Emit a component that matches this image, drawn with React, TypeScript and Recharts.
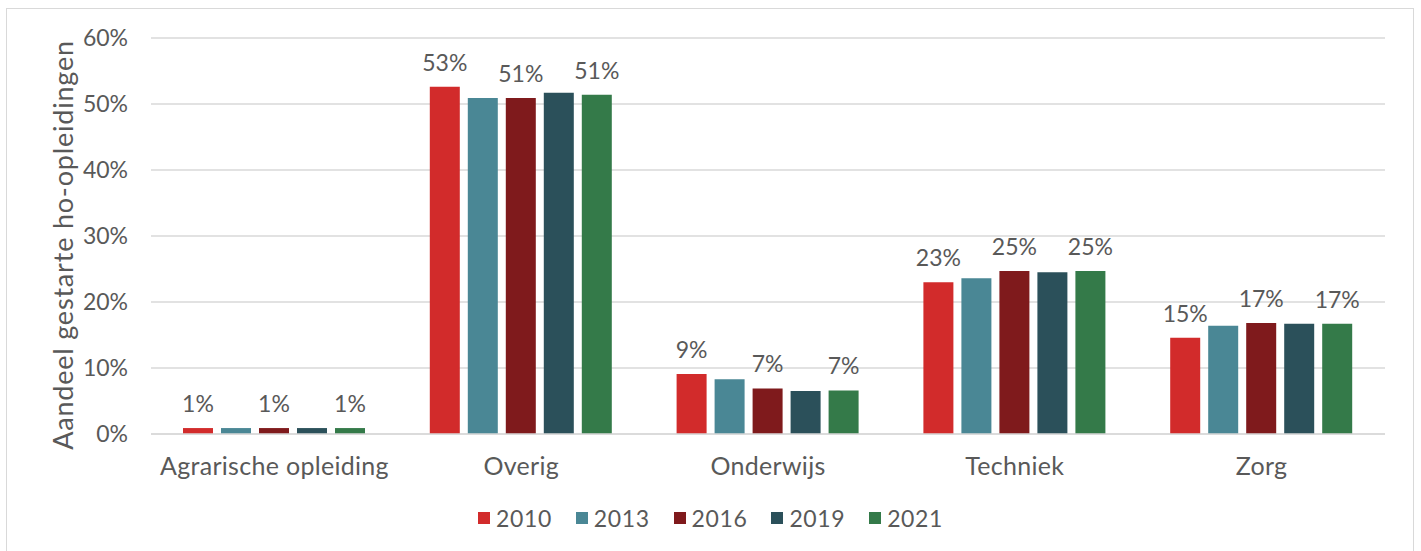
import { Bar, BarChart, CartesianGrid, LabelList, Legend, XAxis, YAxis } from 'recharts'

/**
 * Aandeel gestarte ho-opleidingen per sector, 2010–2021.
 * Grouped bars, labels shown on 2010 / 2016 / 2021 only.
 */

const categories = ['Agrarische opleiding', 'Overig', 'Onderwijs', 'Techniek', 'Zorg']

const years = ['2010', '2013', '2016', '2019', '2021']
const colors = ['#D22B2B', '#4A8795', '#7F1A1C', '#2B505A', '#347A49']
const labelledYears = ['2010', '2016', '2021']

// values in percent, one entry per category
const v2010 = [0.9, 52.6, 9.1, 23.0, 14.6]
const v2013 = [0.9, 50.9, 8.3, 23.6, 16.4]
const v2016 = [0.9, 50.9, 6.9, 24.7, 16.8]
const v2019 = [0.9, 51.7, 6.5, 24.5, 16.7]
const v2021 = [0.9, 51.4, 6.6, 24.7, 16.7]

const yTicks = [0, 10, 20, 30, 40, 50, 60]

const seriesValues = [v2010, v2013, v2016, v2019, v2021]

const data = categories.map((name, i) => {
	const row: Record<string, string | number> = { name }
	years.forEach((y, s) => {
		row[y] = seriesValues[s][i]
	})
	return row
})

const FONT = 'Lato, "Open Sans", sans-serif'
const TEXT = '#595959'
const GRID = '#d9d9d9'

function LegendContent({ payload }: any) {
	return (
		<div style={{ display: 'flex', justifyContent: 'center', alignItems: 'center', fontFamily: FONT }}>
			{(payload || []).map((p: any) => (
				<div key={p.value} style={{ display: 'flex', alignItems: 'center', margin: '0 12px' }}>
					<span style={{ width: 12, height: 12, background: p.color, display: 'inline-block', marginRight: 6 }} />
					<span style={{ fontSize: 23, color: TEXT, lineHeight: '26px', letterSpacing: 0.6 }}>{p.value}</span>
				</div>
			))}
		</div>
	)
}

function AxisTitle({ viewBox }: any) {
	const x = (viewBox?.x ?? 0) + 62
	const y = 245
	return (
		<text
			x={x}
			y={y}
			transform={`rotate(-90 ${x} ${y})`}
			textAnchor="middle"
			dominantBaseline="central"
			fill={TEXT}
			fontSize={27}
			letterSpacing={0.8}
			fontFamily={FONT}
		>
			Aandeel gestarte ho-opleidingen
		</text>
	)
}

export default function App() {
	return (
		<div style={{ position: 'absolute', left: 0, top: 0, width: 1421, height: 551, overflow: 'hidden', background: '#fff' }}>
			<div
				style={{
					position: 'absolute',
					left: 6,
					top: 8,
					width: 1408,
					height: 580,
					border: `1.5px solid ${GRID}`,
					boxSizing: 'border-box'
				}}
			/>
			<div style={{ position: 'absolute', left: 0, top: 0 }}>
				<BarChart
					width={1421}
					height={551}
					data={data}
					margin={{ top: 38, right: 36, bottom: 77, left: 0 }}
					barSize={30}
					barGap={8}
				>
					<CartesianGrid vertical={false} stroke={GRID} strokeWidth={1.5} />
					<XAxis
						dataKey="name"
						height={40}
						tickLine={false}
						axisLine={{ stroke: GRID, strokeWidth: 1.5 }}
						tickMargin={17}
						tick={{ fill: TEXT, fontSize: 25, fontFamily: FONT, letterSpacing: 0.3 }}
						interval={0}
					/>
					<YAxis
						width={151}
						domain={[0, 60]}
						ticks={yTicks}
						tickFormatter={(v: number) => `${v}%`}
						tickLine={false}
						axisLine={false}
						tickMargin={17}
						tick={{ fill: TEXT, fontSize: 23, fontFamily: FONT }}
						label={<AxisTitle />}
					/>
					<Legend
						layout="horizontal"
						verticalAlign="middle"
						align="center"
						wrapperStyle={{ top: 505, left: 0, width: 1421 }}
						content={<LegendContent />}
					/>
					{years.map((y, s) => (
						<Bar key={y} dataKey={y} name={y} fill={colors[s]} isAnimationActive={false}>
							{labelledYears.includes(y) && (
								<LabelList
									dataKey={y}
									position="top"
									offset={16}
									formatter={(v: any) => `${Math.round(Number(v))}%`}
									style={{ fill: TEXT, fontSize: 23, fontFamily: FONT }}
								/>
							)}
						</Bar>
					))}
				</BarChart>
			</div>
		</div>
	)
}
